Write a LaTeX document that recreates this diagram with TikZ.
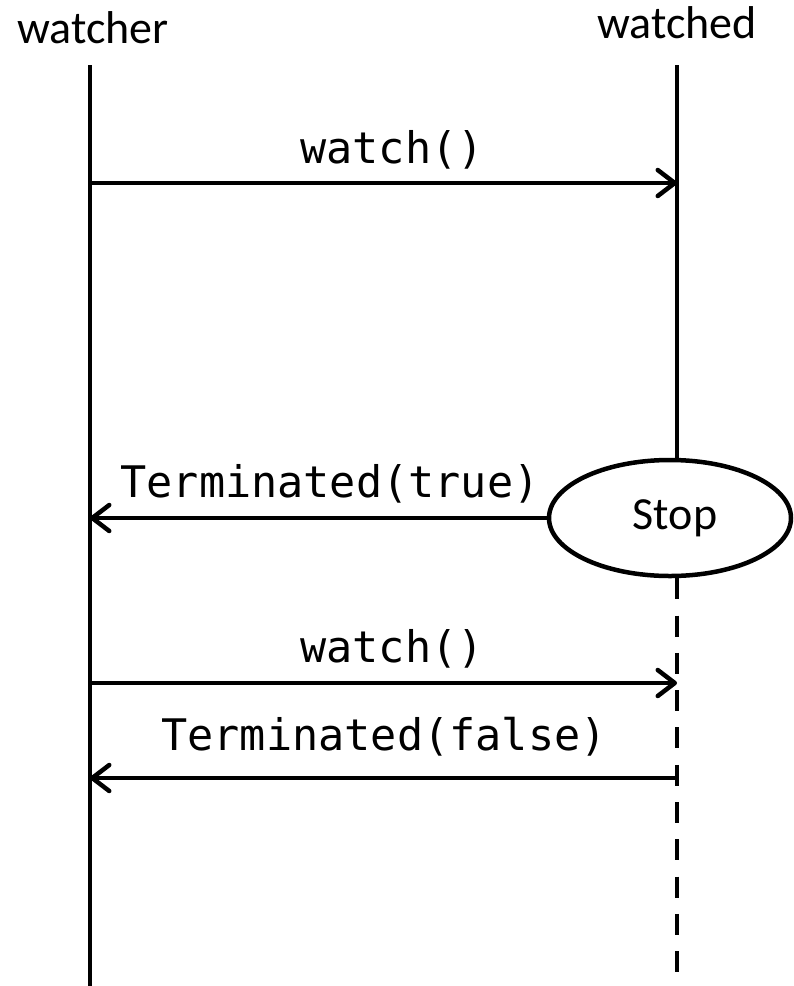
\documentclass[tikz,border=0pt]{standalone}
\usepackage{fontspec}
\setmainfont{Carlito}
\setmonofont{DejaVu Sans Mono}
\usetikzlibrary{arrows.meta,shapes.geometric}

\tikzset{
  actor/.style={font=\fontsize{46}{52}\selectfont, inner sep=0pt, anchor=base},
  msglabel/.style={font=\ttfamily\fontsize{43.5}{50}\selectfont, inner sep=0pt, anchor=base},
  lifeline/.style={line width=4.5pt},
  deadline/.style={line width=4.5pt, dash pattern=on 21pt off 16.3pt},
  msg/.style={line width=4.5pt, -{Straight Barb[length=17pt,width=26pt,round]}},
  state/.style={ellipse, draw, line width=4.5pt, fill=white, inner sep=0pt,
    minimum width=242pt, minimum height=116pt,
    font=\fontsize{46}{52}\selectfont}
}

\begin{document}
\begin{tikzpicture}[x=1pt,y=-1pt]
  \useasboundingbox (0,0) rectangle (794,986);

  % participants
  \node[actor] (watcher) at (93,43) {watcher};
  \node[actor] (watched) at (677,38) {watched};

  % lifeline anchors
  \coordinate (wrTop) at (90,65);
  \coordinate (wrBot) at (90,986);
  \coordinate (wdTop) at (677,65);
  \coordinate (wdMid) at (677,518);
  \coordinate (wdBot) at (677,975);

  % lifelines
  \draw[lifeline] (wrTop) -- (wrBot);
  \draw[lifeline] (wdTop) -- (wdMid);

  % termination of the watched actor
  \node[state] (stop) at (670,518) {\hspace*{10pt}Stop};
  \draw[deadline] (wdTop |- stop.south) -- (wdBot);

  % messages
  \coordinate (m1L) at (90,183);
  \coordinate (m1R) at (677,183);
  \draw[msg] (m1L) -- (m1R);
  \node[msglabel] (l1) at (392,163) {watch()};

  \coordinate (m2L) at (90,518);
  \draw[msg] (stop.west) -- (m2L);
  \node[msglabel] (l2) at (330,497) {Terminated(true)};

  \coordinate (m3L) at (90,683);
  \coordinate (m3R) at (677,683);
  \draw[msg] (m3L) -- (m3R);
  \node[msglabel] (l3) at (392,662) {watch()};

  \coordinate (m4L) at (90,778);
  \coordinate (m4R) at (677,778);
  \draw[msg] (m4R) -- (m4L);
  \node[msglabel] (l4) at (384,750) {Terminated(false)};
\end{tikzpicture}
\end{document}
